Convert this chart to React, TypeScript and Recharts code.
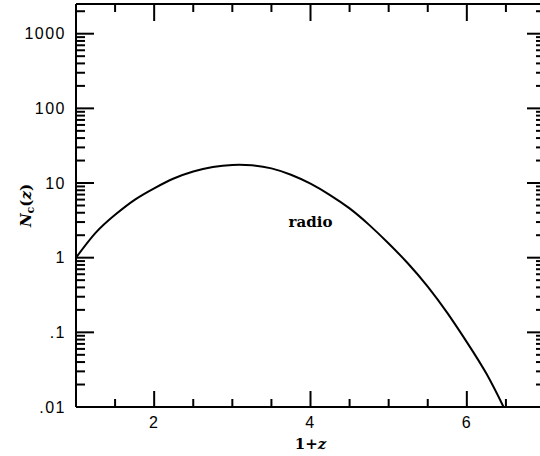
import React from 'react';
import { LineChart, Line, XAxis, YAxis, ReferenceDot } from 'recharts';

// 1+z values and the radio source density N_c(z)
const redshift = [1, 1.25, 1.5, 1.75, 2, 2.25, 2.5, 2.75, 3, 3.25, 3.5, 3.75, 4, 4.25, 4.5, 4.75, 5, 5.25, 5.5, 5.75, 6, 6.25, 6.47];
const density = [1, 2.15, 3.76, 5.96, 8.5, 11.5, 14.3, 16.4, 17.5, 17.3, 15.7, 12.9, 9.8, 6.9, 4.57, 2.75, 1.55, 0.83, 0.41, 0.182, 0.074, 0.028, 0.01];

const xTicks = [1.5, 2, 2.5, 3, 3.5, 4, 4.5, 5, 5.5, 6, 6.5];
const xMajor = [2, 4, 6];
const xLabels = ['2', '4', '6'];

const yMajor = [0.01, 0.1, 1, 10, 100, 1000];
const yLabels = ['.01', '.1', '1', '10', '100', '1000'];
const yMinorMult = [2, 3, 4, 5, 6, 7, 8, 9];
const yMax = 2500;

const curveLabel = { x: 4, y: 3, text: 'radio' };

const data = redshift.map((x, i) => ({ x, n: density[i] }));
const yTicks: number[] = [];
yMajor.forEach((d) => {
  yTicks.push(d);
  yMinorMult.forEach((m) => {
    const v = +(m * d).toPrecision(3);
    if (v <= yMax) yTicks.push(v);
  });
});

const tickFont = { fontFamily: '"Liberation Sans", Arial, sans-serif', fontSize: 16, letterSpacing: 1.5, fill: '#000' };
const serif = '"DejaVu Serif", serif';

const isMajorY = (v: number) => yMajor.findIndex((m) => Math.abs(m - v) / m < 1e-6);

const BottomTick = (p: any) => {
  const { x, y, payload } = p;
  const i = xMajor.indexOf(payload.value);
  const len = i >= 0 ? 16 : 8;
  return (
    <g>
      <line x1={x} y1={y} x2={x} y2={y - len} stroke="#000" strokeWidth={2} />
      {i >= 0 && (
        <text x={x} y={y + 21} textAnchor="middle" {...tickFont}>{xLabels[i]}</text>
      )}
    </g>
  );
};

const TopTick = (p: any) => {
  const { x, y, payload } = p;
  const len = xMajor.indexOf(payload.value) >= 0 ? 17 : 8;
  return <line x1={x} y1={y} x2={x} y2={y + len} stroke="#000" strokeWidth={2} />;
};

const LeftTick = (p: any) => {
  const { x, y, payload } = p;
  const i = isMajorY(payload.value);
  const len = i >= 0 ? 18 : 9;
  return (
    <g>
      <line x1={x} y1={y} x2={x + len} y2={y} stroke="#000" strokeWidth={2} />
      {i >= 0 && (
        <text x={x - 10} y={y} textAnchor="end" dominantBaseline="central" {...tickFont}>{yLabels[i]}</text>
      )}
    </g>
  );
};

const RightTick = (p: any) => {
  const { x, y, payload } = p;
  const len = isMajorY(payload.value) >= 0 ? 18 : 9;
  return <line x1={x} y1={y} x2={x - len} y2={y} stroke="#000" strokeWidth={2} />;
};

const YTitle = (p: any) => {
  const vb = p.viewBox || {};
  const cx = vb.x + 26;
  const cy = vb.y + vb.height / 2;
  return (
    <text x={cx} y={cy} transform={`rotate(-90, ${cx}, ${cy})`} textAnchor="middle" dominantBaseline="central"
      fontFamily={serif} fontWeight="bold" fontSize={15} fill="#000">
      <tspan fontStyle="italic">N</tspan>
      <tspan dy={4} fontSize={11}>c</tspan>
      <tspan dy={-4}>(</tspan>
      <tspan fontStyle="italic">z</tspan>
      <tspan>)</tspan>
    </text>
  );
};

const XTitle = (p: any) => {
  const vb = p.viewBox || {};
  const cx = vb.x + vb.width / 2;
  return (
    <text x={cx} y={vb.y + 42} textAnchor="middle" fontFamily={serif} fontWeight="bold" fontSize={15} fill="#000">
      <tspan>1+</tspan>
      <tspan fontStyle="italic">z</tspan>
    </text>
  );
};

const CurveText = (p: any) => {
  const vb = p.viewBox || {};
  return (
    <text x={vb.x + (vb.width || 0) / 2} y={vb.y + (vb.height || 0) / 2} textAnchor="middle" dominantBaseline="central"
      fontFamily={serif} fontWeight="bold" fontSize={15} fill="#000">{curveLabel.text}</text>
  );
};

export default function App() {
  return (
    <div style={{ position: 'absolute', left: 0, top: 0, width: 540, height: 456, overflow: 'hidden', background: '#fff' }}>
      <LineChart width={548} height={456} data={data} margin={{ top: 3, right: 2, bottom: 0, left: 0 }}>
        <XAxis xAxisId="b" dataKey="x" type="number" domain={[1, 7]} allowDataOverflow ticks={xTicks} interval={0}
          tickSize={0} tickMargin={0} tick={<BottomTick />} height={49}
          axisLine={{ stroke: '#000', strokeWidth: 2 }} label={(p: any) => <XTitle {...p} />} />
        <XAxis xAxisId="t" dataKey="x" type="number" orientation="top" domain={[1, 7]} allowDataOverflow ticks={xTicks}
          interval={0} tickSize={0} tickMargin={0} tick={<TopTick />} height={1}
          axisLine={{ stroke: '#000', strokeWidth: 2 }} />
        <YAxis yAxisId="l" type="number" scale="log" domain={[0.01, yMax]} allowDataOverflow ticks={yTicks} interval={0}
          tickSize={0} tickMargin={0} tick={<LeftTick />} width={76}
          axisLine={{ stroke: '#000', strokeWidth: 2 }} label={(p: any) => <YTitle {...p} />} />
        <YAxis yAxisId="r" type="number" scale="log" orientation="right" domain={[0.01, yMax]} allowDataOverflow ticks={yTicks}
          interval={0} tickSize={0} tickMargin={0} tick={<RightTick />} width={1}
          axisLine={{ stroke: '#000', strokeWidth: 2 }} />
        <Line xAxisId="b" yAxisId="l" type="natural" dataKey="n" stroke="#000" strokeWidth={2} dot={false}
          isAnimationActive={false} />
        <Line xAxisId="t" yAxisId="r" type="natural" dataKey="n" stroke="none" strokeWidth={0} dot={false}
          activeDot={false} legendType="none" isAnimationActive={false} />
        <ReferenceDot xAxisId="b" yAxisId="l" x={curveLabel.x} y={curveLabel.y} r={0} stroke="none" fill="none"
          label={(p: any) => <CurveText {...p} />} />
      </LineChart>
    </div>
  );
}
